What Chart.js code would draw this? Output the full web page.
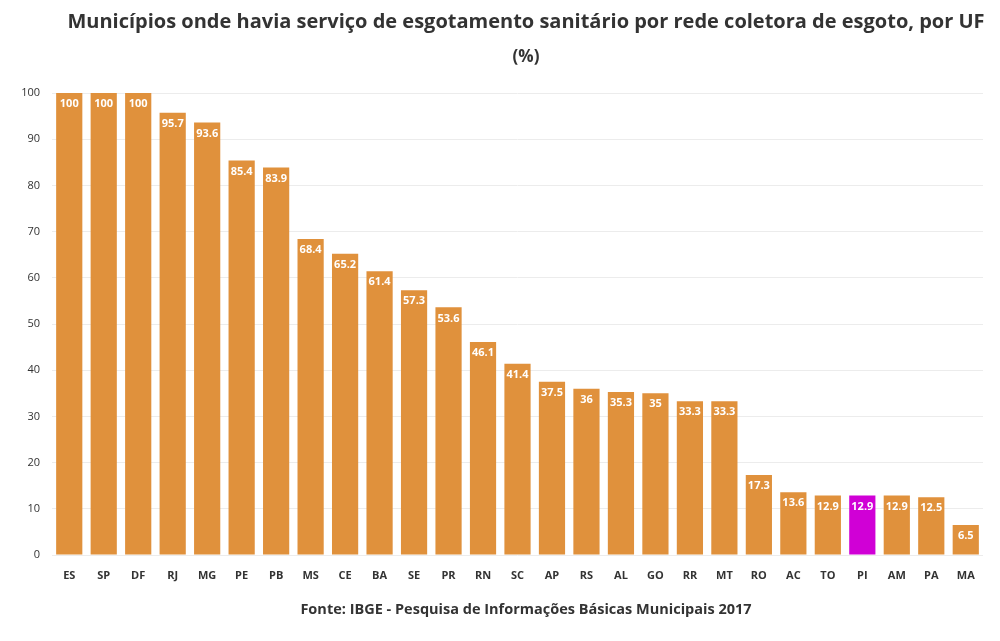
<!DOCTYPE html>
<html><head><meta charset="utf-8">
<script src="https://cdn.jsdelivr.net/npm/chart.js@4"></script>
<style>html,body{margin:0;padding:0;background:#fff}#wrap{width:1000px;height:641px;position:relative}</style>
</head><body><div id="wrap"><canvas id="c" width="1000" height="641"></canvas></div>
<script>
const categories = ["ES","SP","DF","RJ","MG","PE","PB","MS","CE","BA","SE","PR","RN","SC","AP","RS","AL","GO","RR","MT","RO","AC","TO","PI","AM","PA","MA"];
const values = [100,100,100,95.7,93.6,85.4,83.9,68.4,65.2,61.4,57.3,53.6,46.1,41.4,37.5,36,35.3,35,33.3,33.3,17.3,13.6,12.9,12.9,12.9,12.5,6.5];
const highlight = "PI";
const titleText = "Municípios onde havia serviço de esgotamento sanitário por rede coletora de esgoto, por UF";
const subtitleText = "(%)";
const sourceText = "Fonte: IBGE - Pesquisa de Informações Básicas Municipais 2017";
const FONT = "'Open Sans', 'Noto Sans', sans-serif";

const textPlugin = {
  id: 'texts',
  afterDraw(chart) {
    const ctx = chart.ctx;
    ctx.save();
    ctx.textAlign = 'center';
    ctx.textBaseline = 'middle';
    ctx.fillStyle = '#333333';
    ctx.font = "bold 20px " + FONT;
    ctx.fillText(titleText, 526, 22);
    ctx.font = "bold 17px " + FONT;
    ctx.fillText(subtitleText, 526, 57);
    ctx.font = "bold 14.5px " + FONT;
    ctx.fillText(sourceText, 526, 610);
    // bar value labels
    const meta = chart.getDatasetMeta(0);
    ctx.fillStyle = '#ffffff';
    ctx.font = "bold 11px " + FONT;
    meta.data.forEach((bar, i) => {
      ctx.fillText(String(values[i]), bar.x, bar.y + 11);
    });
    ctx.restore();
  }
};

new Chart(document.getElementById('c'), {
  type: 'bar',
  data: {
    labels: categories,
    datasets: [{
      data: values,
      backgroundColor: categories.map(c => c === highlight ? '#D000D6' : '#E0913C'),
      barPercentage: 0.76,
      categoryPercentage: 1.0
    }]
  },
  options: {
    responsive: false,
    animation: false,
    devicePixelRatio: 1,
    layout: { padding: { top: 93, bottom: 56, left: 0, right: 17 } },
    plugins: { legend: { display: false }, tooltip: { enabled: false } },
    scales: {
      x: {
        grid: { display: false },
        border: { display: false },
        ticks: { color: '#333', font: { family: FONT, size: 11, weight: 'bold' }, padding: 6, maxRotation: 0 },
        afterFit(s) { s.height = 30; }
      },
      y: {
        min: 0, max: 100,
        border: { display: false },
        grid: { color: '#ececec', drawTicks: false },
        ticks: { stepSize: 10, color: '#333', font: { family: FONT, size: 11 }, padding: 12 },
        afterFit(s) { s.width = 52; }
      }
    }
  },
  plugins: [textPlugin]
});
</script></body></html>
